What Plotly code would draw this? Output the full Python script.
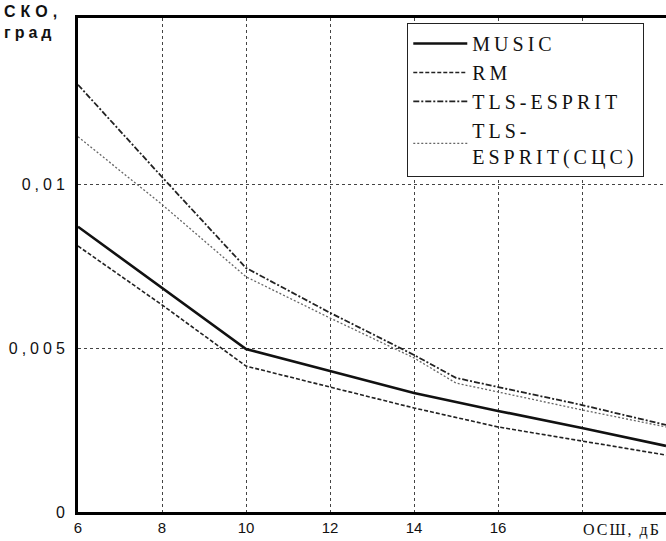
import plotly.graph_objects as go

# SNR grid (dB) and RMS error (deg) of the direction estimates
snr = [6, 8, 10, 12, 14, 16, 18, 20]
snr_esprit = [6, 8, 10, 12, 14, 15, 16, 18, 20]

music = [0.00872, 0.00685, 0.00498, 0.00431, 0.00364, 0.00309, 0.00257, 0.00202]
rm = [0.00813, 0.00633, 0.00446, 0.00382, 0.00318, 0.00260, 0.00217, 0.00174]
tls_esprit = [0.01306, 0.01024, 0.00746, 0.00609, 0.00480, 0.00410, 0.00382, 0.00327, 0.00266]
tls_esprit_scs = [0.01147, 0.00940, 0.00719, 0.00593, 0.00471, 0.00394, 0.00367, 0.00312, 0.00260]

x_ticks = [6, 8, 10, 12, 14, 16, 18]
x_ticktext = ["6", "8", "10", "12", "14", "16", ""]
y_ticks = [0, 0.005, 0.01]
y_ticktext = ["0", "0,005", "0,01"]

sans = "Liberation Sans, Arial, sans-serif"
serif = "Liberation Serif, Times New Roman, serif"


def spaced(text, px):
    """Wrap text in a span with extra letter spacing (typewriter-like print)."""
    return f'<span style="letter-spacing:{px}px">{text}</span>'


fig = go.Figure()
fig.add_trace(go.Scatter(x=snr, y=music, mode="lines", name=spaced("MUSIC", 4),
                         line=dict(color="#111111", width=2.6)))
fig.add_trace(go.Scatter(x=snr, y=rm, mode="lines", name=spaced("RM", 4),
                         line=dict(color="#222222", width=1.6, dash="4px,2px")))
fig.add_trace(go.Scatter(x=snr_esprit, y=tls_esprit, mode="lines", name=spaced("TLS-ESPRIT", 4),
                         line=dict(color="#222222", width=1.8, dash="6px,2px,2px,2px")))
fig.add_trace(go.Scatter(x=snr_esprit, y=tls_esprit_scs, mode="lines",
                         name=spaced("TLS-", 4) + "<br>" + spaced("ESPRIT(СЦС)", 4),
                         line=dict(color="#666666", width=1.3, dash="2px,2px")))

fig.update_layout(
    width=666, height=541,
    margin=dict(l=78, r=0, t=18, b=29),
    paper_bgcolor="white", plot_bgcolor="white",
    showlegend=True,
    legend=dict(
        x=0.56, y=0.99, xanchor="left", yanchor="top",
        bgcolor="white", bordercolor="#222222", borderwidth=1,
        font=dict(family=serif, size=20, color="#111111"),
        tracegroupgap=0, itemwidth=54,
    ),
    xaxis=dict(
        range=[6, 20], tickvals=x_ticks, ticktext=x_ticktext,
        showgrid=True, gridcolor="#444444", griddash="dot", gridwidth=1,
        showline=True, linecolor="black", linewidth=2.5, mirror=True,
        ticks="", zeroline=False,
        tickfont=dict(family=sans, size=15, color="#111111"),
    ),
    yaxis=dict(
        range=[0, 0.0151], tickvals=y_ticks,
        ticktext=[spaced(t, 4) for t in y_ticktext],
        showgrid=True, gridcolor="#444444", griddash="dot", gridwidth=1,
        showline=True, linecolor="black", linewidth=3, mirror=False,
        ticks="", zeroline=False, ticklabelstandoff=3,
        tickfont=dict(family=sans, size=16, color="#111111"),
    ),
    annotations=[
        dict(text="<b>" + spaced("СКО,", 5) + "</b><br><b>" + spaced("град", 4) + "</b>",
             xref="paper", yref="paper",
             x=-0.13, y=1.034, xanchor="left", yanchor="top", showarrow=False, align="left",
             font=dict(family=sans, size=16, color="#111111")),
        dict(text=spaced("ОСШ, дБ", 2), xref="paper", yref="paper",
             x=0.925, y=-0.015, xanchor="center", yanchor="top", showarrow=False,
             font=dict(family=serif, size=16, color="#111111")),
    ],
)

fig.write_html("out.html")
